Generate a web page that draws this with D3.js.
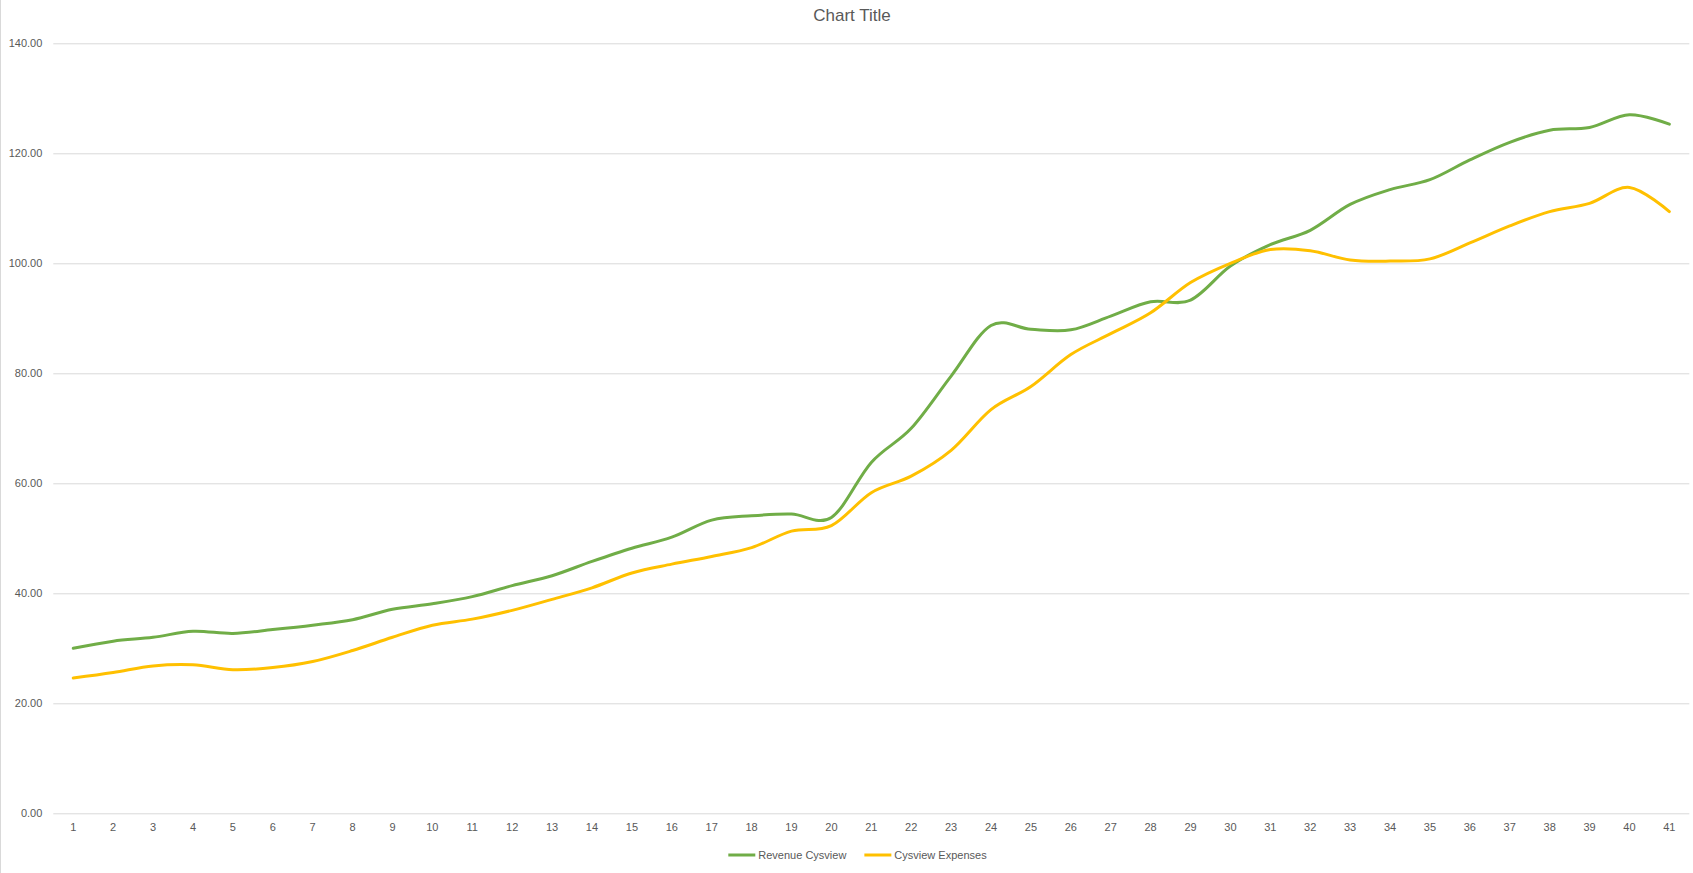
<!DOCTYPE html>
<html>
<head>
<meta charset="utf-8">
<script src="https://cdn.jsdelivr.net/npm/d3@7"></script>
<style>
  html, body { margin: 0; padding: 0; background: #ffffff; }
  svg { display: block; }
  text { font-family: "Liberation Sans", Arial, sans-serif; fill: #595959; }
</style>
</head>
<body>
<svg id="chart" width="1693" height="873"></svg>
<script>
const chartTitle = "Chart Title";
const categories = d3.range(1, 42).map(String);
const yTicks = [0, 20, 40, 60, 80, 100, 120, 140];
const seriesNames = ["Revenue Cysview", "Cysview Expenses"];
const seriesColors = ["#70AD47", "#FFC000"];
const revenue = [30.0, 31.3, 32.0, 33.1, 32.7, 33.4, 34.2, 35.2, 37.1, 38.1,
                 39.4, 41.4, 43.2, 45.8, 48.2, 50.2, 53.3, 54.1, 54.4, 53.8,
                 63.8, 70.0, 79.5, 88.7, 88.0, 87.9, 90.4, 93.0, 93.3, 99.5,
                 103.4, 106.0, 110.7, 113.4, 115.2, 118.8, 122.0, 124.2, 124.7, 127.0,
                 125.3];
const expenses = [24.6, 25.6, 26.8, 27.0, 26.1, 26.5, 27.6, 29.6, 32.0, 34.2,
                  35.3, 36.9, 38.9, 41.0, 43.7, 45.3, 46.7, 48.3, 51.3, 52.3,
                  58.3, 61.3, 66.0, 73.4, 77.6, 83.4, 87.2, 91.0, 96.5, 100.0,
                  102.5, 102.3, 100.6, 100.4, 100.8, 103.7, 106.8, 109.4, 110.9, 113.8,
                  109.4];
const seriesValues = [revenue, expenses];

const W = 1693, H = 873;
const plot = { left: 53.3, right: 1689.3, top: 43.3, bottom: 813.3 };

const svg = d3.select("#chart");

// chart border (left edge visible)
svg.append("line")
  .attr("x1", 0.5).attr("x2", 0.5).attr("y1", 0).attr("y2", H)
  .attr("stroke", "#d9d9d9").attr("stroke-width", 1);

const x = d3.scaleBand().domain(categories).range([plot.left, plot.right]);
const y = d3.scaleLinear().domain([0, 140]).range([plot.bottom, plot.top]);

// Y axis with gridlines
const yAxis = svg.append("g")
  .attr("transform", `translate(${plot.left},0)`)
  .call(d3.axisLeft(y).tickValues(yTicks).tickFormat(d3.format(".2f"))
    .tickSize(-(plot.right - plot.left)).tickPadding(11));
yAxis.select(".domain").remove();
yAxis.selectAll(".tick line").attr("stroke", "#d9d9d9").attr("stroke-width", 1);
yAxis.selectAll(".tick text").attr("fill", "#595959")
  .style("font-family", '"Liberation Sans", Arial, sans-serif').style("font-size", "11px");

// X axis
const xAxis = svg.append("g")
  .attr("transform", `translate(0,${plot.bottom})`)
  .call(d3.axisBottom(x).tickSize(0).tickPadding(10));
xAxis.select(".domain").remove();
xAxis.selectAll(".tick text").attr("fill", "#595959")
  .style("font-family", '"Liberation Sans", Arial, sans-serif').style("font-size", "11px");

// Lines
const line = d3.line()
  .x((d, i) => x(categories[i]) + x.bandwidth() / 2)
  .y(d => y(d))
  .curve(d3.curveCatmullRom.alpha(0));

seriesValues.forEach((vals, k) => {
  svg.append("path")
    .datum(vals)
    .attr("d", line)
    .attr("fill", "none")
    .attr("stroke", seriesColors[k])
    .attr("stroke-width", 3)
    .attr("stroke-linejoin", "round")
    .attr("stroke-linecap", "round");
});

// Title
svg.append("text")
  .attr("x", 852).attr("y", 21)
  .attr("text-anchor", "middle")
  .style("font-size", "17px")
  .text(chartTitle);

// Legend
const legend = svg.append("g");
let cx = 0;
seriesNames.forEach((name, k) => {
  const g = legend.append("g").attr("transform", `translate(${cx},0)`);
  g.append("line").attr("x1", 0).attr("x2", 27).attr("y1", 0).attr("y2", 0)
    .attr("stroke", seriesColors[k]).attr("stroke-width", 3);
  const t = g.append("text").attr("x", 30).attr("y", 0).attr("dy", "0.35em")
    .style("font-size", "11px").text(name);
  const w = 30 + t.node().getComputedTextLength();
  cx += w + 18;
});
const totalW = cx - 18;
legend.attr("transform", `translate(${(W - totalW) / 2 + 11},855)`);
</script>
</body>
</html>
